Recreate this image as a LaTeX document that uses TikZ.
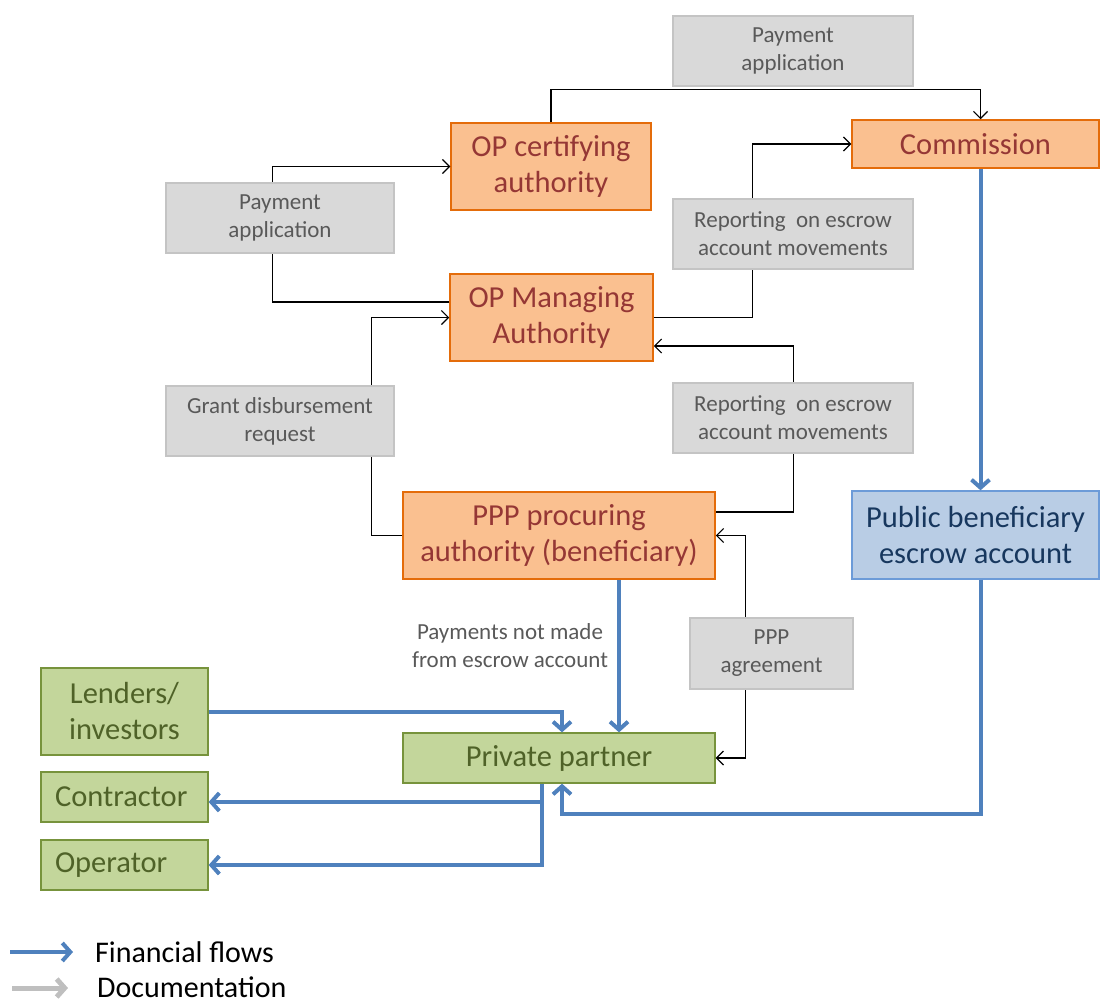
\documentclass[tikz,border=0pt]{standalone}
\usepackage{fontspec}
\setmainfont{Carlito}
\usetikzlibrary{arrows.meta,calc}
\definecolor{orfill}{HTML}{FAC090}
\definecolor{ordraw}{HTML}{E46C0A}
\definecolor{ortext}{HTML}{953735}
\definecolor{grfill}{HTML}{D9D9D9}
\definecolor{grdraw}{HTML}{C4C4C4}
\definecolor{grtext}{HTML}{595959}
\definecolor{gnfill}{HTML}{C3D69B}
\definecolor{gndraw}{HTML}{77933C}
\definecolor{gntext}{HTML}{4F6228}
\definecolor{blfill}{HTML}{B9CDE5}
\definecolor{bldraw}{HTML}{6C9BD8}
\definecolor{bltext}{HTML}{17375E}
\definecolor{flow}{HTML}{4F81BD}
\definecolor{legdoc}{HTML}{BFBFBF}
\tikzset{
  bigtext/.style={font=\fontsize{30.5}{36}\selectfont},
  smalltext/.style={font=\fontsize{23}{28}\selectfont},
  orbox/.style={draw=ordraw, fill=orfill, line width=1.5pt, text=ortext, bigtext, align=center, inner sep=0pt},
  grbox/.style={draw=grdraw, fill=grfill, line width=1.5pt, text=grtext, smalltext, align=center, inner sep=0pt, minimum width=240pt, minimum height=70pt},
  gnbox/.style={draw=gndraw, fill=gnfill, line width=1.3pt, text=gntext, bigtext, align=center, inner sep=0pt},
  blbox/.style={draw=bldraw, fill=blfill, line width=1.3pt, text=bltext, bigtext, align=center, inner sep=0pt},
  doc/.style={draw=black, line width=1.2pt, -{Straight Barb[length=7pt,width=14pt]}},
  docboth/.style={draw=black, line width=1.2pt, {Straight Barb[length=7pt,width=14pt]}-{Straight Barb[length=7pt,width=14pt]}},
  fin/.style={draw=flow, line width=4pt, -{Straight Barb[length=8pt,width=18pt]}},
  legtext/.style={font=\fontsize{30}{34}\selectfont, anchor=west, inner sep=0pt},
}
\begin{document}
\begin{tikzpicture}[x=1pt,y=-1pt]
\useasboundingbox (0,0) rectangle (1100,1007);
\node[orbox, minimum width=200pt, minimum height=87pt] (cert) at (551,166.5) {OP certifying\\authority};
\node[orbox, minimum width=247pt, minimum height=48pt] (comm) at (975.5,144) {Commission};
\node[orbox, minimum width=203pt, minimum height=87pt] (ma) at (551.5,317.5) {OP Managing\\Authority};
\node[orbox, minimum width=312pt, minimum height=87pt] (proc) at (559,535.5) {PPP procuring\\authority (beneficiary)};
\node[blbox, minimum width=247pt, minimum height=88pt] (escrow) at (975.5,535) {Public beneficiary\\escrow account};
\node[gnbox, minimum width=312pt, minimum height=50pt] (partner) at (559,758) {Private partner};
\node[gnbox, minimum width=167pt, minimum height=87pt] (lend) at (124.5,711.5) {Lenders/\\investors};
\node[gnbox, minimum height=50pt, text width=139pt, inner xsep=14pt, align=left] (contr) at (124.5,797) {Contractor};
\node[gnbox, minimum height=50pt, text width=139pt, inner xsep=14pt, align=left] (oper) at (124.5,865) {Operator};

% documentation connectors (behind grey boxes)
\draw[doc] (cert.north) -- ++(0,-33) -| ($(comm.north)+(5,0)$);
\draw[doc] ($(ma.west)+(0,-15.5)$) -- ++(-177,0) |- (cert.west);
\draw[doc] (ma.east) -- ++(99,0) |- (comm.west);
\draw[doc] ($(proc.east)+(0,-23.5)$) -- ++(78,0) |- ($(ma.east)+(0,28.5)$);
\draw[doc] (proc.west) -- ++(-31,0) |- (ma.west);
\draw[docboth] (proc.east) -- ++(30,0) |- (partner.east);

% grey documentation boxes
\node[grbox] (payTop) at (793,51) {Payment\\application};
\node[grbox, minimum width=228pt] (payLeft) at (280,218) {Payment\\application};
\node[grbox] (rep1) at (793,234) {Reporting\ \ on escrow\\account movements};
\node[grbox, minimum width=228pt] (grant) at (280,421) {Grant disbursement\\request};
\node[grbox] (rep2) at (793,418) {Reporting\ \ on escrow\\account movements};
\node[grbox, minimum width=163pt, minimum height=71pt] (agr) at (771.5,653.5) {PPP\\agreement};

% financial flows
\draw[fin] ($(comm.south)+(5,0)$) -- ($(escrow.north)+(5,0)$);
\draw[fin] ($(escrow.south)+(5,0)$) -- ++(0,234) -| ($(partner.south)+(3,0)$);
\draw[fin] ($(proc.south)+(60,0)$) -- ($(partner.north)+(60,0)$);
\draw[fin] (lend.east) -| ($(partner.north)+(3,0)$);
\draw[fin] ($(partner.south)+(-17,0)$) |- ($(contr.east)+(0,5)$);
\draw[fin] ($(partner.south)+(-17,19)$) |- (oper.east);

\node[smalltext, text=grtext, align=center, inner sep=0pt] (lbl) at (510,646) {Payments not made\\from escrow account};

% legend
\coordinate (l1a) at (10,952);
\coordinate (l1b) at (73,952);
\draw[fin] (l1a) -- (l1b);
\node[legtext] (lg1) at (95,952) {Financial flows};
\coordinate (l2a) at (12,988);
\coordinate (l2b) at (68,988);
\draw[draw=legdoc, line width=5pt, -{Straight Barb[length=8pt,width=18pt]}] (l2a) -- (l2b);
\node[legtext] (lg2) at (97,987) {Documentation};
\end{tikzpicture}
\end{document}
